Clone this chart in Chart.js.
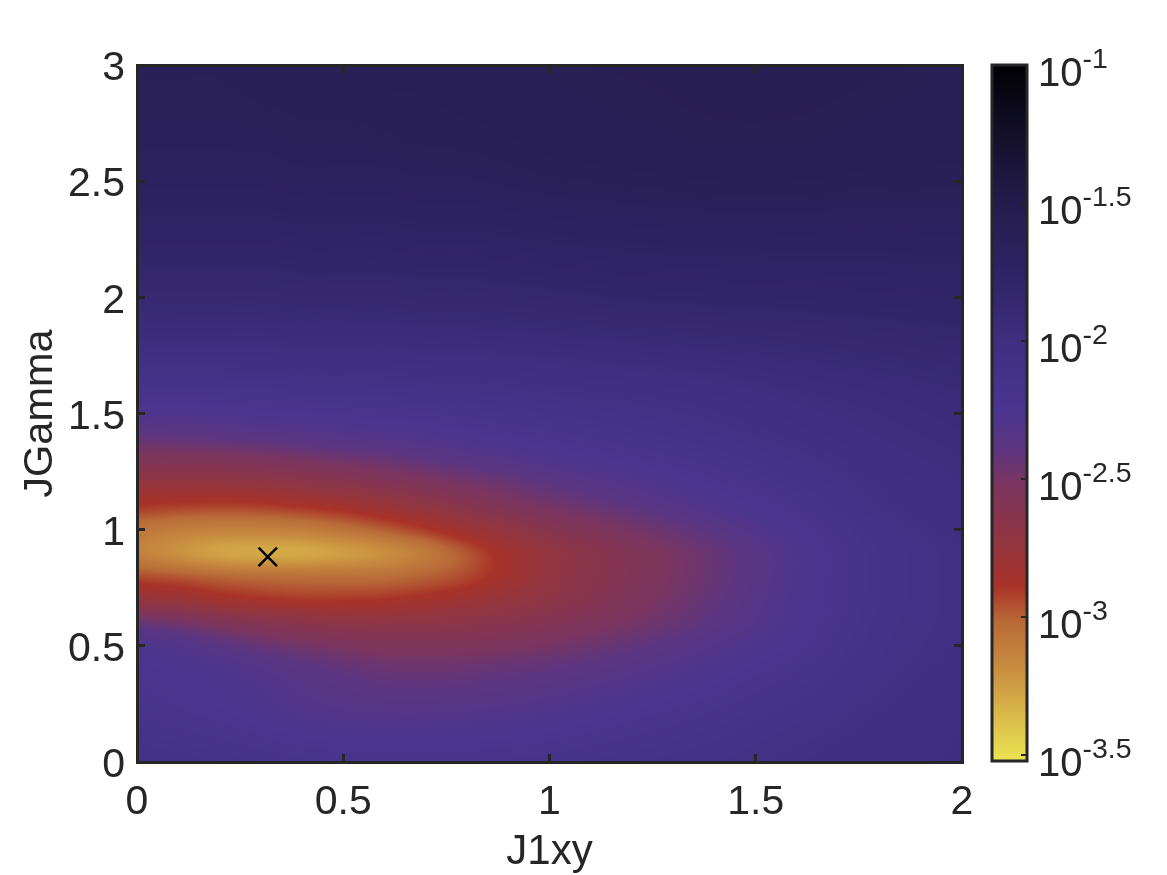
<!DOCTYPE html>
<html>
<head>
<meta charset="utf-8">
<title>J1xy / JGamma map</title>
<script src="https://cdn.jsdelivr.net/npm/chart.js@4/dist/chart.umd.min.js"></script>
<style>
  html, body { margin: 0; padding: 0; background: #fff; overflow: hidden; }
  #map { position: absolute; left: 0; top: 0; }
  #bar { position: absolute; left: 960px; top: 0; }
</style>
</head>
<body>
<canvas id="map" width="1167" height="875"></canvas>
<canvas id="bar" width="207" height="875"></canvas>
<script>
const FONT = "'Liberation Sans', Arial, sans-serif"
const INK = "#262626"

// grid of the map, log10 of the value at each node
const gridX = [0, 0.1, 0.2, 0.3, 0.4, 0.5, 0.6, 0.7, 0.8, 0.9, 1, 1.2, 1.4, 1.6, 1.8, 2]
const gridY = [0, 0.2, 0.4, 0.5, 0.6, 0.7, 0.8, 0.9, 1, 1.1, 1.2, 1.3, 1.4, 1.6, 1.8, 2, 2.5, 3]
const logValues = [
  [-2.10, -2.11, -2.13, -2.15, -2.17, -2.18, -2.18, -2.18, -2.18, -2.17, -2.16, -2.13, -2.10, -2.05, -2.02, -1.98],
  [-2.17, -2.20, -2.22, -2.25, -2.28, -2.30, -2.31, -2.31, -2.30, -2.29, -2.27, -2.22, -2.17, -2.11, -2.05, -2.00],
  [-2.22, -2.24, -2.27, -2.31, -2.36, -2.40, -2.43, -2.44, -2.43, -2.41, -2.39, -2.33, -2.26, -2.18, -2.09, -2.03],
  [-2.26, -2.30, -2.36, -2.42, -2.47, -2.51, -2.54, -2.54, -2.53, -2.51, -2.48, -2.40, -2.31, -2.22, -2.11, -2.04],
  [-2.42, -2.47, -2.54, -2.60, -2.64, -2.67, -2.68, -2.67, -2.65, -2.62, -2.58, -2.48, -2.37, -2.25, -2.12, -2.05],
  [-2.72, -2.76, -2.82, -2.86, -2.88, -2.88, -2.87, -2.84, -2.79, -2.73, -2.67, -2.53, -2.40, -2.26, -2.13, -2.05],
  [-2.93, -2.96, -3.00, -3.02, -3.03, -3.03, -3.02, -2.98, -2.92, -2.82, -2.71, -2.56, -2.42, -2.27, -2.13, -2.05],
  [-3.10, -3.18, -3.25, -3.27, -3.27, -3.23, -3.17, -3.07, -2.95, -2.82, -2.71, -2.56, -2.42, -2.27, -2.13, -2.05],
  [-3.05, -3.09, -3.11, -3.11, -3.09, -3.04, -2.97, -2.89, -2.79, -2.70, -2.61, -2.48, -2.36, -2.23, -2.11, -2.03],
  [-2.88, -2.90, -2.91, -2.90, -2.87, -2.83, -2.77, -2.70, -2.62, -2.54, -2.48, -2.38, -2.28, -2.18, -2.07, -2.01],
  [-2.72, -2.72, -2.72, -2.70, -2.67, -2.63, -2.58, -2.53, -2.48, -2.43, -2.38, -2.30, -2.22, -2.13, -2.05, -1.99],
  [-2.55, -2.55, -2.54, -2.52, -2.49, -2.46, -2.43, -2.39, -2.35, -2.32, -2.28, -2.22, -2.16, -2.09, -2.02, -1.97],
  [-2.40, -2.39, -2.38, -2.36, -2.34, -2.32, -2.30, -2.28, -2.25, -2.22, -2.20, -2.15, -2.10, -2.04, -1.99, -1.95],
  [-2.16, -2.16, -2.15, -2.14, -2.13, -2.12, -2.11, -2.10, -2.09, -2.08, -2.06, -2.04, -2.01, -1.97, -1.94, -1.91],
  [-1.98, -1.98, -1.98, -1.98, -1.97, -1.97, -1.97, -1.96, -1.96, -1.95, -1.94, -1.92, -1.90, -1.88, -1.86, -1.84],
  [-1.87, -1.87, -1.87, -1.87, -1.86, -1.86, -1.86, -1.85, -1.85, -1.84, -1.83, -1.81, -1.80, -1.79, -1.78, -1.77],
  [-1.68, -1.68, -1.68, -1.68, -1.67, -1.67, -1.67, -1.66, -1.66, -1.65, -1.64, -1.63, -1.62, -1.62, -1.63, -1.63],
  [-1.63, -1.63, -1.63, -1.62, -1.62, -1.62, -1.61, -1.61, -1.60, -1.60, -1.59, -1.58, -1.57, -1.57, -1.58, -1.60],
]

// best fit marker
const markerX = [0.317]
const markerY = [0.883]

// colorbar stops, log10 level and colour
const barLevels = [-3.5, -3.36, -3.18, -3, -2.87, -2.71, -2.5, -2.38, -2.24, -2, -1.74, -1.5, -1.23, -1]
const barColors = ["#ebe552", "#dcc04c", "#c99040", "#b96a38", "#a83228", "#913540", "#7a3560", "#5c3580",
  "#4a3590", "#3e2f80", "#2e2364", "#241c4c", "#110e26", "#000003"]
const barTicks = [-3.5, -3, -2.5, -2, -1.5, -1]
const barTickExponents = ["-3.5", "-3", "-2.5", "-2", "-1.5", "-1"]

const rgbStops = barColors.map((hex) => [
  parseInt(hex.slice(1, 3), 16),
  parseInt(hex.slice(3, 5), 16),
  parseInt(hex.slice(5, 7), 16),
])

const colorFor = (level) => {
  let i = 0
  while (i < barLevels.length - 2 && level > barLevels[i + 1]) i++
  const t = Math.min(1, Math.max(0, (level - barLevels[i]) / (barLevels[i + 1] - barLevels[i])))
  return rgbStops[i].map((c, k) => c + (rgbStops[i + 1][k] - c) * t)
}

// smooth shading between nodes, like shading interp
const spline = (xs, ys, x) => {
  let i = 0
  while (i < xs.length - 2 && x > xs[i + 1]) i++
  const h = xs[i + 1] - xs[i]
  const t = Math.min(1, Math.max(0, (x - xs[i]) / h))
  const slope = (j) => {
    const a = Math.max(0, j - 1)
    const b = Math.min(xs.length - 1, j + 1)
    return (ys[b] - ys[a]) / (xs[b] - xs[a])
  }
  const t2 = t * t
  const t3 = t2 * t
  return (2 * t3 - 3 * t2 + 1) * ys[i] + (t3 - 2 * t2 + t) * h * slope(i) +
    (-2 * t3 + 3 * t2) * ys[i + 1] + (t3 - t2) * h * slope(i + 1)
}

const heatmapPlugin = {
  id: "heatmap",
  beforeDraw(chart) {
    const { ctx, chartArea, scales } = chart
    const left = Math.round(chartArea.left)
    const top = Math.round(chartArea.top)
    const w = Math.round(chartArea.right) - left
    const h = Math.round(chartArea.bottom) - top
    const off = document.createElement("canvas")
    off.width = w
    off.height = h
    const offCtx = off.getContext("2d")
    const img = offCtx.createImageData(w, h)
    const xValues = []
    for (let px = 0; px < w; px++) xValues.push(scales.x.getValueForPixel(left + px + 0.5))
    for (let py = 0; py < h; py++) {
      const y = scales.y.getValueForPixel(top + py + 0.5)
      const row = gridX.map((_, c) => spline(gridY, logValues.map((r) => r[c]), y))
      for (let px = 0; px < w; px++) {
        const rgb = colorFor(spline(gridX, row, xValues[px]))
        const o = (py * w + px) * 4
        img.data[o] = rgb[0]
        img.data[o + 1] = rgb[1]
        img.data[o + 2] = rgb[2]
        img.data[o + 3] = 255
      }
    }
    offCtx.putImageData(img, 0, 0)
    ctx.drawImage(off, left, top)
  },
}

const tickFormat = (value) => String(value)

new Chart(document.getElementById("map"), {
  type: "scatter",
  data: {
    datasets: [
      {
        data: markerX.map((x, i) => ({ x, y: markerY[i] })),
        pointStyle: "crossRot",
        pointRadius: 13,
        borderColor: "#000",
        borderWidth: 2.5,
      },
    ],
  },
  plugins: [heatmapPlugin],
  options: {
    animation: false,
    responsive: false,
    layout: { padding: { top: 65, right: 205 } },
    plugins: { legend: { display: false }, tooltip: { enabled: false } },
    scales: {
      x: {
        type: "linear",
        position: "bottom",
        min: 0,
        max: 2,
        afterFit: (scale) => { scale.height = 113; scale.paddingLeft = 0; scale.paddingRight = 0 },
        title: { display: true, text: "J1xy", color: INK, font: { family: FONT, size: 42 }, padding: { top: 0, bottom: -3 } },
        grid: { drawOnChartArea: false, tickLength: -8, lineWidth: 3, color: INK },
        border: { display: true, width: 3, color: INK },
        ticks: {
          stepSize: 0.5,
          autoSkip: false,
          maxRotation: 0,
          padding: 24,
          color: INK,
          font: { family: FONT, size: 41 },
          callback: tickFormat,
        },
      },
      y: {
        type: "linear",
        position: "left",
        min: 0,
        max: 3,
        afterFit: (scale) => { scale.width = 137 },
        title: { display: true, text: "JGamma", color: INK, font: { family: FONT, size: 41.5 }, padding: { top: 16, bottom: 0 } },
        grid: { drawOnChartArea: false, tickLength: -8, lineWidth: 3, color: INK },
        border: { display: true, width: 3, color: INK },
        ticks: {
          stepSize: 0.5,
          autoSkip: false,
          padding: 20,
          labelOffset: 4,
          color: INK,
          font: { family: FONT, size: 41 },
          callback: tickFormat,
        },
      },
      xTop: {
        type: "linear",
        position: "top",
        min: 0,
        max: 2,
        afterFit: (scale) => { scale.height = 0 },
        grid: { drawOnChartArea: false, tickLength: -8, lineWidth: 3, color: INK },
        border: { display: true, width: 3, color: INK },
        ticks: { stepSize: 0.5, display: false },
      },
      yRight: {
        type: "linear",
        position: "right",
        min: 0,
        max: 3,
        afterFit: (scale) => { scale.width = 0 },
        grid: { drawOnChartArea: false, tickLength: -8, lineWidth: 3, color: INK },
        border: { display: true, width: 3, color: INK },
        ticks: { stepSize: 0.5, display: false },
      },
    },
  },
})

const colorbarPlugin = {
  id: "colorbar",
  beforeDraw(chart) {
    const { ctx, chartArea, scales } = chart
    const g = ctx.createLinearGradient(0, chartArea.bottom, 0, chartArea.top)
    const y0 = scales.y.getPixelForValue(10 ** barLevels[0])
    const y1 = scales.y.getPixelForValue(10 ** barLevels[barLevels.length - 1])
    barLevels.forEach((level, i) => {
      const t = (scales.y.getPixelForValue(10 ** level) - y0) / (y1 - y0)
      g.addColorStop(t, barColors[i])
    })
    ctx.fillStyle = g
    ctx.fillRect(chartArea.left, chartArea.top, chartArea.right - chartArea.left, chartArea.bottom - chartArea.top)
  },
  afterDraw(chart) {
    const { ctx, chartArea, scales } = chart
    ctx.save()
    ctx.strokeStyle = INK
    ctx.lineWidth = 3
    ctx.strokeRect(chartArea.left, chartArea.top, chartArea.right - chartArea.left, chartArea.bottom - chartArea.top)
    ctx.fillStyle = INK
    ctx.textBaseline = "alphabetic"
    barTicks.forEach((level, i) => {
      const y = scales.y.getPixelForValue(10 ** level)
      ctx.font = `40px ${FONT}`
      ctx.fillText("10", chartArea.right + 11, y + 21)
      const w = ctx.measureText("10").width
      ctx.font = `28.5px ${FONT}`
      ctx.fillText(barTickExponents[i], chartArea.right + 11 + w, y + 3)
    })
    ctx.restore()
  },
}

new Chart(document.getElementById("bar"), {
  type: "bar",
  data: { labels: [""], datasets: [{ data: [] }] },
  plugins: [colorbarPlugin],
  options: {
    animation: false,
    responsive: false,
    layout: { padding: { left: 32, top: 65, bottom: 114 } },
    plugins: { legend: { display: false }, tooltip: { enabled: false } },
    scales: {
      x: { display: false },
      y: {
        type: "logarithmic",
        position: "right",
        min: 10 ** -3.5,
        max: 0.1,
        afterFit: (scale) => { scale.width = 140 },
        afterBuildTicks: (scale) => { scale.ticks = barTicks.map((level) => ({ value: 10 ** level })) },
        grid: { drawOnChartArea: false, tickLength: -6, lineWidth: 2, color: INK },
        border: { display: false },
        ticks: { display: false },
      },
    },
  },
})
</script>
</body>
</html>
